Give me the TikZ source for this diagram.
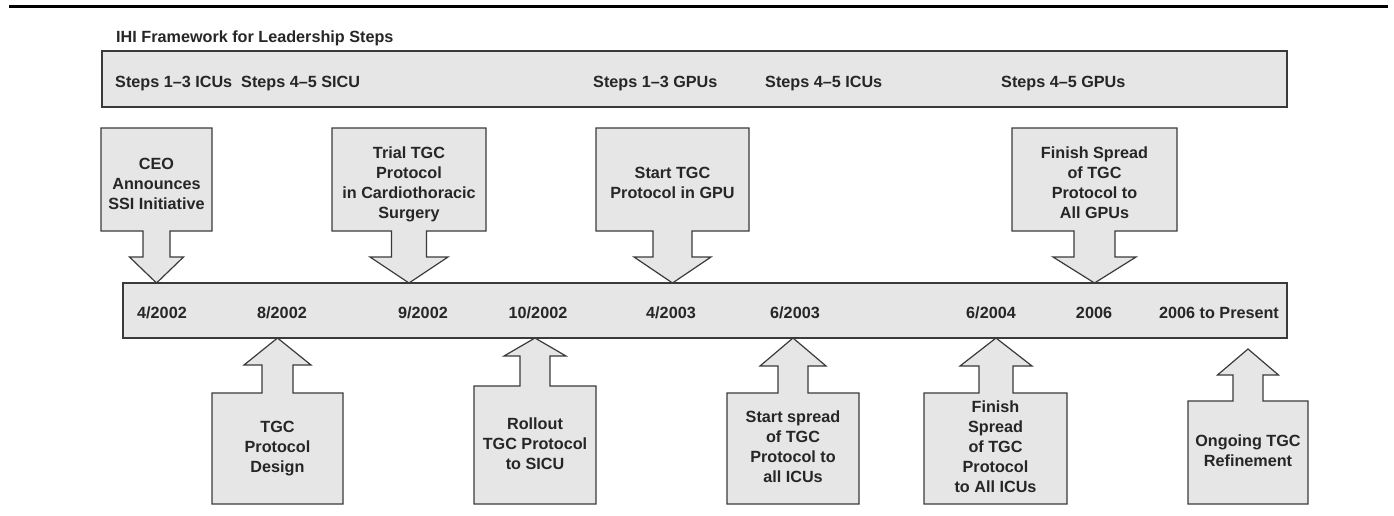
\documentclass[tikz,border=0pt]{standalone}
\usepackage{fontspec}
\setmainfont{Liberation Sans}
\definecolor{panelfill}{HTML}{E6E6E6}
\definecolor{panelline}{HTML}{3A3A3A}
\definecolor{inktext}{HTML}{262626}
% callout: box between y1 (far edge) and y2 (edge carrying the arrow),
% arrow centred on c with shaft half-width s, head half-width h,
% head base at hb and tip at tip
\newcommand{\calloutshape}[9]{%
  \draw[panel] (#1,#3) -- (#2,#3) -- (#2,#4) -- ({#5+#6},#4) -- ({#5+#6},#8)
    -- ({#5+#7},#8) -- (#5,#9) -- ({#5-#7},#8) -- ({#5-#6},#8) -- ({#5-#6},#4)
    -- (#1,#4) -- cycle;}
\newcommand{\stack}[1]{\begin{tabular}[t]{@{}c@{}}#1\end{tabular}}
\tikzset{
  panel/.style={fill=panelfill, draw=panelline, line width=1.2pt, line join=miter},
  lbl/.style={inner sep=0pt, text=inktext, font=\fontsize{16.2}{20}\selectfont\bfseries},
  datelbl/.style={lbl, anchor=base},
  steplbl/.style={lbl, anchor=base west},
  boxtext/.style={lbl, anchor=base},
}
\begin{document}
\begin{tikzpicture}[x=1pt, y=-1pt]
\useasboundingbox (0,0) rectangle (1394,515);

% heading rule
\draw[line width=3pt, black] (9,6.5) -- (1388,6.5);

% leadership framework band
\node[steplbl] (title) at (116,42) {IHI Framework for Leadership Steps};
\draw[panel] (102,51) rectangle (1287,107);
\node[steplbl] (s1) at (115,87) {Steps 1\textendash3 ICUs};
\node[steplbl] (s2) at (241,87) {Steps 4\textendash5 SICU};
\node[steplbl] (s3) at (593,87) {Steps 1\textendash3 GPUs};
\node[steplbl] (s4) at (765,87) {Steps 4\textendash5 ICUs};
\node[steplbl] (s5) at (1001,87) {Steps 4\textendash5 GPUs};

% events above the timeline (arrows point down)
\calloutshape{101}{212}{128}{231}{156.5}{13.5}{27}{257}{283}
\calloutshape{332}{486}{128}{231}{409}{17.5}{39}{257}{283}
\calloutshape{596}{749}{128}{231}{672.5}{19.5}{38.5}{257}{283}
\calloutshape{1012}{1177}{128}{231}{1094.5}{20.5}{41.5}{257}{283}

% events below the timeline (arrows point up)
\calloutshape{212}{343}{504}{393}{277.5}{15.5}{33.5}{365}{338}
\calloutshape{474}{596}{504}{386}{535}{15}{31}{356}{338}
\calloutshape{727}{859}{504}{393}{793}{15}{33}{366}{338}
\calloutshape{924}{1067}{504}{393}{996}{17}{36}{366}{338}
\calloutshape{1188}{1308}{504}{401}{1248}{15}{30.5}{375}{349}

% timeline bar
\draw[panel] (123,283) rectangle (1287,338);
\node[datelbl] (d1) at (162,318) {4/2002};
\node[datelbl] (d2) at (282,318) {8/2002};
\node[datelbl] (d3) at (423,318) {9/2002};
\node[datelbl] (d4) at (538,318) {10/2002};
\node[datelbl] (d5) at (671,318) {4/2003};
\node[datelbl] (d6) at (795,318) {6/2003};
\node[datelbl] (d7) at (991,318) {6/2004};
\node[datelbl] (d8) at (1094,318) {2006};
\node[datelbl] (d9) at (1219,318) {2006 to Present};

% callout texts
\node[boxtext] (ceo) at (156.5,169.5) {\stack{CEO\\Announces\\SSI Initiative}};
\node[boxtext] (trial) at (409,158.5) {\stack{Trial TGC\\Protocol\\in Cardiothoracic\\Surgery}};
\node[boxtext] (gpu) at (672.5,178.5) {\stack{Start TGC\\Protocol in GPU}};
\node[boxtext] (allgpu) at (1094.5,158.5) {\stack{Finish Spread\\of TGC\\Protocol to\\All GPUs}};
\node[boxtext] (design) at (277.5,432.5) {\stack{TGC\\Protocol\\Design}};
\node[boxtext] (rollout) at (535,429.5) {\stack{Rollout\\TGC Protocol\\to SICU}};
\node[boxtext] (spread) at (793,422.5) {\stack{Start spread\\of TGC\\Protocol to\\all ICUs}};
\node[boxtext] (allicu) at (995.5,412.5) {\stack{Finish\\Spread\\of TGC\\Protocol\\to All ICUs}};
\node[boxtext] (refine) at (1248,446.5) {\stack{Ongoing TGC\\Refinement}};
\end{tikzpicture}
\end{document}
